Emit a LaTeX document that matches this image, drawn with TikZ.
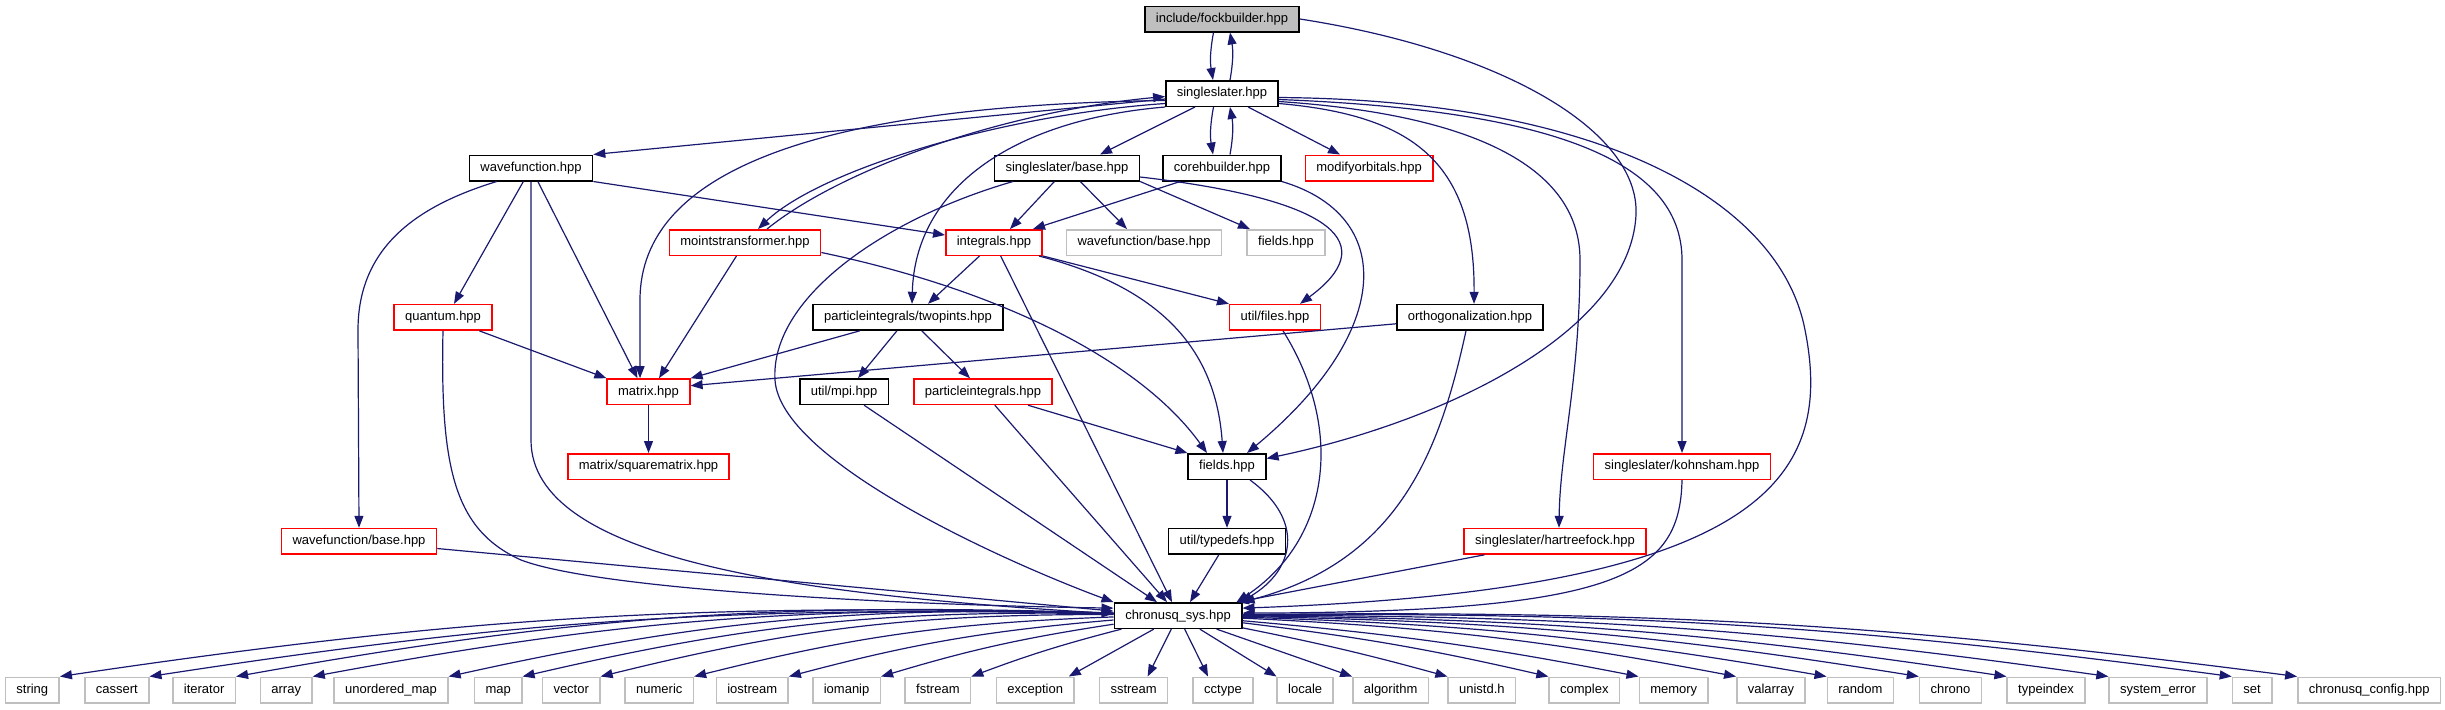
\documentclass[tikz,border=0pt]{standalone}
\usepackage{fontspec}
\setmainfont{Liberation Sans}
\usepackage{tikz}
\usetikzlibrary{arrows.meta}
\definecolor{edgeblue}{HTML}{191970}
\definecolor{cutred}{HTML}{FF0000}
\definecolor{sysgray}{HTML}{BFBFBF}
\definecolor{rootgray}{HTML}{BFBFBF}

\begin{document}
\begin{tikzpicture}[
  x=0.5pt, y=-0.5pt,
  font=\fontsize{6.5}{7.5}\selectfont,
  file/.style={draw=black, line width=0.75pt, fill=white, minimum height=12.75pt,
               inner xsep=5.5pt, inner ysep=0pt, text height=4.8pt, text depth=1.4pt},
  rootfile/.style={file, fill=rootgray},
  cutfile/.style={file, draw=cutred},
  sysfile/.style={file, draw=sysgray},
  arr/.style={-{Triangle[length=6pt,width=4.5pt]}, draw=edgeblue, line width=0.6pt}
]
\useasboundingbox (0,0) rectangle (2445,709);
\node[rootfile] (fock) at (1222,19) {include/fockbuilder.hpp};
\node[file] (sslater) at (1222,93.5) {singleslater.hpp};
\node[file] (wfn) at (531,168) {wavefunction.hpp};
\node[file] (ssbase) at (1067,168) {singleslater/base.hpp};
\node[file] (coreh) at (1222,168) {corehbuilder.hpp};
\node[cutfile] (modorb) at (1369,168) {modifyorbitals.hpp};
\node[cutfile] (moints) at (745,242.5) {mointstransformer.hpp};
\node[cutfile] (integ) at (994,242.5) {integrals.hpp};
\node[sysfile] (wfbasex) at (1144,242.5) {wavefunction/base.hpp};
\node[sysfile] (fieldsx) at (1286,242.5) {fields.hpp};
\node[cutfile] (quantum) at (443,317.3) {quantum.hpp};
\node[file] (twopints) at (908,317.3) {particleintegrals/twopints.hpp};
\node[cutfile] (files) at (1275,317.3) {util/files.hpp};
\node[file] (ortho) at (1470,317.3) {orthogonalization.hpp};
\node[cutfile] (matrix) at (648.5,391.7) {matrix.hpp};
\node[file] (mpi) at (844,391.7) {util/mpi.hpp};
\node[cutfile] (pints) at (983,391.7) {particleintegrals.hpp};
\node[cutfile] (sqmat) at (648.5,466.5) {matrix/squarematrix.hpp};
\node[file] (fields) at (1227,466.5) {fields.hpp};
\node[cutfile] (kohnsham) at (1682,466.5) {singleslater/kohnsham.hpp};
\node[cutfile] (wfbase) at (359,541.3) {wavefunction/base.hpp};
\node[file] (typedefs) at (1227,541.3) {util/typedefs.hpp};
\node[cutfile] (hfock) at (1555,541.3) {singleslater/hartreefock.hpp};
\node[file] (sys) at (1178,615.6) {chronusq\_sys.hpp};
\node[sysfile] (string) at (32.3,690) {string};
\node[sysfile] (cassert) at (116.8,690) {cassert};
\node[sysfile] (iterator) at (204.1,690) {iterator};
\node[sysfile] (array) at (286.2,690) {array};
\node[sysfile] (umap) at (391,690) {unordered\_map};
\node[sysfile] (map) at (498.2,690) {map};
\node[sysfile] (vector) at (571.2,690) {vector};
\node[sysfile] (numeric) at (659.3,690) {numeric};
\node[sysfile] (iostream) at (752.2,690) {iostream};
\node[sysfile] (iomanip) at (846.6,690) {iomanip};
\node[sysfile] (fstream) at (937.9,690) {fstream};
\node[sysfile] (exception) at (1035.2,690) {exception};
\node[sysfile] (sstream) at (1133.6,690) {sstream};
\node[sysfile] (cctype) at (1223,690) {cctype};
\node[sysfile] (locale) at (1305.2,690) {locale};
\node[sysfile] (algorithm) at (1390.6,690) {algorithm};
\node[sysfile] (unistd) at (1481.9,690) {unistd.h};
\node[sysfile] (complex) at (1584.3,690) {complex};
\node[sysfile] (memory) at (1673.7,690) {memory};
\node[sysfile] (valarray) at (1770.9,690) {valarray};
\node[sysfile] (random) at (1860.3,690) {random};
\node[sysfile] (chrono) at (1950.4,690) {chrono};
\node[sysfile] (typeindex) at (2046,690) {typeindex};
\node[sysfile] (syserror) at (2158,690) {system\_error};
\node[sysfile] (set) at (2252.1,690) {set};
\node[sysfile] (config) at (2369.2,690) {chronusq\_config.hpp};
\draw[arr] ([xshift=-4.25pt]fock.south) to[bend right=10] ([xshift=-4.5pt]sslater.north);
\draw[arr] ([xshift=4pt]sslater.north) to[bend right=10] ([xshift=4pt]fock.south);
\draw[arr] (fock.east) .. controls (1500,50) and (1640,130) .. (1636,215)
  .. controls (1630,330) and (1450,420) .. ([yshift=4pt]fields.east);
\draw[arr] (sslater) -- (wfn.north east);
\draw[arr] (sslater) -- ([xshift=16.5pt]ssbase.north);
\draw[arr] ([xshift=-4.25pt]sslater.south) to[bend right=10] ([xshift=-4.5pt]coreh.north);
\draw[arr] ([xshift=4pt]coreh.north) to[bend right=10] ([xshift=4pt]sslater.south);
\draw[arr] (sslater) -- ([xshift=-14.5pt]modorb.north);
\draw[arr] ([yshift=-5pt]sslater.west) .. controls (1000,115) and (820,170) .. ([xshift=6.5pt]moints.north);
\draw[arr] ([xshift=11pt]moints.north) .. controls (840,170) and (1000,112) .. ([yshift=-1.5pt]sslater.west);
\draw[arr] ([yshift=-3.5pt]sslater.west) .. controls (820,105) and (640,170) .. (640,300)
  -- ([xshift=-4.25pt]matrix.north);
\draw[arr] (sslater.south west) .. controls (1010,120) and (915,190) .. ([xshift=2pt]twopints.north);
\draw[arr] ([yshift=-5pt]sslater.east) .. controls (1410,115) and (1475,160) .. ([xshift=2pt]ortho.north);
\draw[arr] ([yshift=-4pt]sslater.east) .. controls (1480,115) and (1580,170) .. (1580,260)
  .. controls (1580,380) and (1560,450) .. ([xshift=2pt]hfock.north);
\draw[arr] ([yshift=-3pt]sslater.east) .. controls (1550,110) and (1682,160) .. (1682,260) -- (kohnsham.north);
\draw[arr] ([yshift=-2pt]sslater.east) .. controls (1600,100) and (1780,200) .. (1805,330)
  .. controls (1835,480) and (1760,590) .. ([yshift=3.75pt]sys.east);
\draw[arr] (ssbase) -- ([xshift=8pt]integ.north);
\draw[arr] (ssbase) -- ([xshift=-8.5pt]wfbasex.north);
\draw[arr] (ssbase.south east) -- ([xshift=-18pt]fieldsx.north);
\draw[arr] ([yshift=-4.5pt]ssbase.east) .. controls (1340,200) and (1380,245) .. ([xshift=12.5pt]files.north);
\draw[arr] ([xshift=-27pt]ssbase.south) .. controls (880,220) and (770,300) .. (775,380)
  .. controls (780,460) and (1000,560) .. (sys.north west);
\draw[arr] (coreh) -- ([xshift=19.5pt]integ.north);
\draw[arr] (coreh.south east) .. controls (1395,215) and (1395,330) .. ([xshift=10pt]fields.north);
\draw[arr] (wfn.south east) -- ([yshift=3.75pt]integ.west);
\draw[arr] (wfn) -- ([xshift=5.5pt]quantum.north);
\draw[arr] (wfn) -- ([xshift=-5.5pt]matrix.north);
\draw[arr] ([xshift=14pt]wfn.south west) .. controls (420,205) and (358,245) .. (358,330) -- (wfbase.north);
\draw[arr] (wfn.south) -- (531,440) .. controls (531,560) and (800,595) .. ([yshift=1pt]sys.west);
\draw[arr] (moints) -- ([xshift=5.25pt]matrix.north);
\draw[arr] ([yshift=-5pt]moints.east) .. controls (1000,290) and (1140,360) .. ([xshift=-10pt]fields.north);
\draw[arr] (integ) -- ([xshift=10pt]twopints.north);
\draw[arr] (integ.south east) -- (files.north west);
\draw[arr] ([xshift=-2pt]integ.south east) .. controls (1150,285) and (1215,340) .. ([xshift=-2pt]fields.north);
\draw[arr] (integ) -- ([xshift=-3pt]sys.north);
\draw[arr] (quantum) -- (matrix.north west);
\draw[arr] (quantum.south) .. controls (440,470) and (455,530) .. (521,560)
  .. controls (600,590) and (900,605) .. ([yshift=3.75pt]sys.west);
\draw[arr] (twopints) -- (matrix.north east);
\draw[arr] (twopints) -- ([xshift=7pt]mpi.north);
\draw[arr] (twopints) -- ([xshift=-6.5pt]pints.north);
\draw[arr] ([xshift=4pt]files.south) .. controls (1345,430) and (1330,540) .. ([xshift=-3pt]sys.north east);
\draw[arr] (ortho) -- ([yshift=3pt]matrix.east);
\draw[arr] ([xshift=-2pt]ortho.south) .. controls (1440,450) and (1400,560) .. (sys.north east);
\draw[arr] (matrix) -- (sqmat);
\draw[arr] (mpi) -- ([xshift=-10.5pt]sys.north);
\draw[arr] (pints) -- (fields.north west);
\draw[arr] (pints) -- ([xshift=-5.5pt]sys.north);
\draw[arr] (fields) -- (typedefs);
\draw[arr] ([xshift=11.5pt]fields.south) .. controls (1305,520) and (1295,570) .. ([xshift=-1pt]sys.north east);
\draw[arr] (typedefs) -- ([xshift=6pt]sys.north);
\draw[arr] (kohnsham.south) .. controls (1680,575) and (1620,612) .. ([yshift=1.25pt]sys.east);
\draw[arr] (hfock) -- ([xshift=29.5pt]sys.north);
\draw[arr] (wfbase) -- ([yshift=2.25pt]sys.west);
\draw[arr] (sys) to[bend right=5] (string.north east);
\draw[arr] (sys) to[bend right=5] (cassert.north east);
\draw[arr] (sys) to[bend right=6] (iterator.north east);
\draw[arr] (sys) to[bend right=6] (array.north east);
\draw[arr] (sys) to[bend right=7] (umap.north east);
\draw[arr] (sys) to[bend right=7] (map.north east);
\draw[arr] (sys) to[bend right=7] (vector.north east);
\draw[arr] (sys) to[bend right=6] (numeric.north east);
\draw[arr] (sys) to[bend right=5] (iostream.north east);
\draw[arr] (sys) to[bend right=4] (iomanip.north east);
\draw[arr] (sys) to[bend right=3] (fstream.north east);
\draw[arr] (sys) -- ([xshift=-3pt]exception.north east);
\draw[arr] (sys) -- ([xshift=7pt]sstream.north);
\draw[arr] (sys) -- ([xshift=-7.5pt]cctype.north);
\draw[arr] (sys) -- (locale.north west);
\draw[arr] (sys) -- (algorithm.north west);
\draw[arr] (sys) to[bend left=2] (unistd.north west);
\draw[arr] (sys) to[bend left=3] (complex.north west);
\draw[arr] (sys) to[bend left=3] (memory.north west);
\draw[arr] (sys) to[bend left=4] (valarray.north west);
\draw[arr] (sys) to[bend left=4] (random.north west);
\draw[arr] (sys) to[bend left=4] (chrono.north west);
\draw[arr] (sys) to[bend left=4] (typeindex.north west);
\draw[arr] (sys) to[bend left=4] (syserror.north west);
\draw[arr] (sys) to[bend left=4] (set.north west);
\draw[arr] (sys) to[bend left=4] (config.north west);
\end{tikzpicture}
\end{document}
